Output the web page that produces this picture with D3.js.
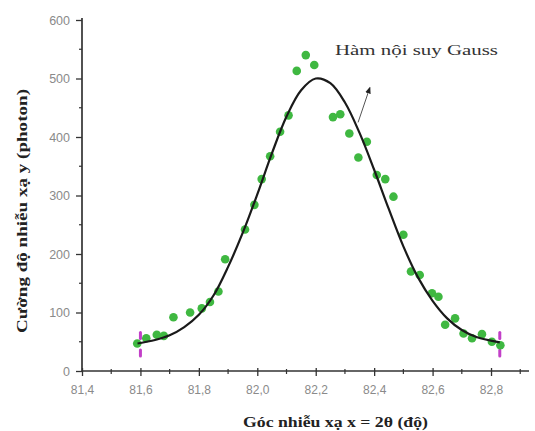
<!DOCTYPE html>
<html>
<head>
<meta charset="utf-8">
<script src="https://cdn.jsdelivr.net/npm/d3@7/dist/d3.min.js"></script>
<style>
  body { margin: 0; background: #fff; }
  svg { display: block; }
</style>
</head>
<body>
<svg id="chart" width="535" height="431"></svg>
<script>
// Measured diffraction intensities (angle 2θ in degrees, counts in photons)
const obsX = [81.589, 81.62, 81.656, 81.68, 81.713, 81.77, 81.81, 81.838, 81.867,
              81.89, 81.958, 81.99, 82.015, 82.044, 82.078, 82.107, 82.135, 82.166,
              82.195, 82.259, 82.284, 82.315, 82.346, 82.375, 82.409, 82.438, 82.466,
              82.50, 82.526, 82.556, 82.598, 82.62, 82.643, 82.677, 82.706, 82.735,
              82.769, 82.803, 82.832];
const obsY = [47, 56, 62, 60, 92, 100, 107, 118, 136,
              191, 242, 284, 328, 367, 409, 437, 513, 540,
              523, 434, 439, 406, 365, 392, 335, 328, 298,
              233, 170, 164, 133, 127, 79, 90, 64, 56,
              63, 50, 44];

// Gaussian fit curve, sampled along the angle axis
const fitX = [81.59, 81.65, 81.70, 81.75, 81.80, 81.85, 81.90, 81.95, 82.00, 82.05,
              82.10, 82.15, 82.20, 82.25, 82.30, 82.35, 82.40, 82.45, 82.50, 82.55,
              82.60, 82.65, 82.70, 82.75, 82.83];
const fitY = [47, 53, 61, 75, 96, 129, 178, 236, 302, 372,
              435, 480, 500, 492, 459, 407, 344, 277, 213, 160,
              120, 90, 70, 58, 49];

// Baseline range markers at both ends of the peak
const edgeX = [81.6, 82.83];
const edgeY = [30.8, 60.7];

// Axis ticks
const xMajor = [81.4, 81.6, 81.8, 82.0, 82.2, 82.4, 82.6, 82.8];
const xMajorLabels = ["81,4", "81,6", "81,8", "82,0", "82,2", "82,4", "82,6", "82,8"];
const xMinor = [81.5, 81.7, 81.9, 82.1, 82.3, 82.5, 82.7, 82.9];
const yMajor = [0, 100, 200, 300, 400, 500, 600];
const yMajorLabels = ["0", "100", "200", "300", "400", "500", "600"];
const yMinor = [50, 150, 250, 350, 450, 550];

// Annotation for the fitted curve
const fitLabel = "Hàm nội suy Gauss";
const arrowFrom = [82.345, 425];
const arrowTo = [82.385, 484];

const xTitle = "Góc nhiễu xạ x = 2θ (độ)";
const yTitle = "Cường  độ nhiễu xạ y (photon)";

const svg = d3.select("#chart");

const x = d3.scaleLinear().domain([81.4, 82.93]).range([82, 529]);
const y = d3.scaleLinear().domain([0, 600]).range([371, 20]);

const axisColor = "#333";
const labelColor = "#8a8a8a";

// X axis
const gx = svg.append("g").attr("transform", `translate(0,${y(0)})`)
  .call(d3.axisBottom(x).tickValues(xMajor)
    .tickFormat((d, i) => xMajorLabels[i]).tickSizeOuter(0).tickPadding(8));
gx.select(".domain").attr("stroke", axisColor).attr("stroke-width", 1.7)
  .attr("d", `M${x(81.4)},0H${x(82.93)}`);
gx.selectAll(".tick line").attr("stroke", axisColor).attr("stroke-width", 1.3)
  .attr("y1", -3).attr("y2", 5);
gx.selectAll(".tick text").attr("fill", labelColor)
  .attr("font-family", "Liberation Sans, Arial, sans-serif").attr("font-size", 12);

svg.append("g").selectAll("line").data(xMinor).join("line")
  .attr("x1", d => x(d)).attr("x2", d => x(d))
  .attr("y1", y(0) - 2).attr("y2", y(0) + 3)
  .attr("stroke", axisColor).attr("stroke-width", 1.2);

// Y axis
const gy = svg.append("g").attr("transform", `translate(${x(81.4)},0)`)
  .call(d3.axisLeft(y).tickValues(yMajor)
    .tickFormat((d, i) => yMajorLabels[i]).tickSizeOuter(0).tickSize(6).tickPadding(6));
gy.select(".domain").attr("stroke", axisColor).attr("stroke-width", 1.7)
  .attr("d", `M0,${y(0)}V${y(600) - 2}`);
gy.selectAll(".tick line").attr("stroke", axisColor).attr("stroke-width", 1.3);
gy.selectAll(".tick text").attr("fill", labelColor)
  .attr("font-family", "Liberation Sans, Arial, sans-serif").attr("font-size", 12.5);

svg.append("g").selectAll("line").data(yMinor).join("line")
  .attr("x1", x(81.4) - 3).attr("x2", x(81.4))
  .attr("y1", d => y(d)).attr("y2", d => y(d))
  .attr("stroke", axisColor).attr("stroke-width", 1.2);

// Axis titles
svg.append("text")
  .attr("x", 243).attr("y", 427)
  .attr("font-family", "Liberation Serif, Times New Roman, serif")
  .attr("font-weight", "bold").attr("font-size", 15)
  .attr("fill", "#222")
  .attr("textLength", 185).attr("lengthAdjust", "spacingAndGlyphs")
  .text(xTitle);

svg.append("text")
  .attr("transform", "translate(27,333) rotate(-90)")
  .attr("font-family", "Liberation Serif, Times New Roman, serif")
  .attr("font-weight", "bold").attr("font-size", 15.5)
  .attr("fill", "#222")
  .attr("textLength", 244).attr("lengthAdjust", "spacingAndGlyphs")
  .text(yTitle);

// Baseline range markers
const edgeMarks = edgeX.flatMap(ex => edgeY.map(ey => [ex, ey]));
svg.append("g").selectAll("line").data(edgeMarks).join("line")
  .attr("x1", d => x(d[0])).attr("x2", d => x(d[0]))
  .attr("y1", d => y(d[1]) - 3).attr("y2", d => y(d[1]) + 3)
  .attr("stroke", "#c23fc8").attr("stroke-width", 3).attr("stroke-linecap", "round");

// Observed points
const pts = obsX.map((d, i) => [d, obsY[i]]);
svg.append("g").selectAll("circle").data(pts).join("circle")
  .attr("cx", d => x(d[0])).attr("cy", d => y(d[1])).attr("r", 4.3)
  .attr("fill", "#3fb841");

// Gaussian fit
const fit = fitX.map((d, i) => [d, fitY[i]]);
svg.append("path")
  .datum(fit)
  .attr("fill", "none").attr("stroke", "#1a1a1a").attr("stroke-width", 2.2)
  .attr("d", d3.line().x(d => x(d[0])).y(d => y(d[1])).curve(d3.curveCatmullRom.alpha(0.5)));

// Annotation arrow and label
svg.append("defs").append("marker")
  .attr("id", "arrowHead").attr("viewBox", "0 0 10 10")
  .attr("refX", 8).attr("refY", 5)
  .attr("markerWidth", 7).attr("markerHeight", 7)
  .attr("orient", "auto")
  .append("path").attr("d", "M0,1L10,5L0,9Z").attr("fill", "#222");

svg.append("line")
  .attr("x1", x(arrowFrom[0])).attr("y1", y(arrowFrom[1]))
  .attr("x2", x(arrowTo[0])).attr("y2", y(arrowTo[1]))
  .attr("stroke", "#555").attr("stroke-width", 1)
  .attr("marker-end", "url(#arrowHead)");

svg.append("text")
  .attr("x", 335).attr("y", 55)
  .attr("font-family", "Liberation Serif, Times New Roman, serif")
  .attr("font-size", 15)
  .attr("fill", "#333")
  .attr("textLength", 163).attr("lengthAdjust", "spacingAndGlyphs")
  .text(fitLabel);
</script>
</body>
</html>
